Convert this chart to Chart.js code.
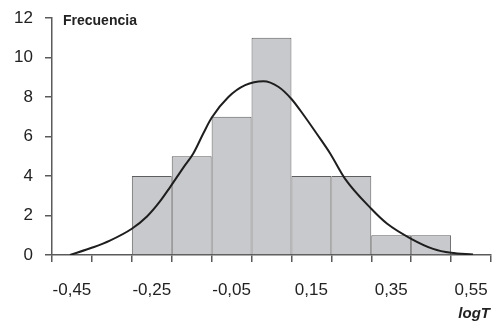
<!DOCTYPE html>
<html>
<head>
<meta charset="utf-8">
<script src="https://cdn.jsdelivr.net/npm/chart.js@4/dist/chart.umd.min.js"></script>
<style>
  html, body { margin: 0; padding: 0; background: #fff; }
  #wrap { width: 496px; height: 321px; }
</style>
</head>
<body>
<div id="wrap"><canvas id="chart"></canvas></div>
<script>
// histogram bins (centre of each 0.1 wide class) and frequencies
const binCentres = [-0.25, -0.15, -0.05, 0.05, 0.15, 0.25, 0.35, 0.45];
const frequencies = [4, 5, 7, 11, 4, 4, 1, 1];

// fitted curve
const curveX = [-0.455, -0.397, -0.355, -0.30, -0.262, -0.23, -0.204, -0.17, -0.146, -0.121, -0.10, -0.058, -0.016, 0.03, 0.067, 0.10, 0.13, 0.163, 0.197, 0.234, 0.30, 0.34, 0.40, 0.455, 0.50, 0.555];
const curveY = [0, 0.39, 0.73, 1.33, 1.95, 2.7, 3.44, 4.45, 5.14, 6.15, 6.95, 8.0, 8.6, 8.8, 8.52, 7.9, 7.1, 6.15, 5.14, 3.87, 2.34, 1.58, 0.82, 0.31, 0.11, 0.03];

// axis ticks
const xEdges = [-0.5, -0.4, -0.3, -0.2, -0.1, 0, 0.1, 0.2, 0.3, 0.4, 0.5, 0.6];
const xLabelValues = [-0.45, -0.25, -0.05, 0.15, 0.35, 0.55];
const xLabels = ['-0,45', '-0,25', '-0,05', '0,15', '0,35', '0,55'];
const yTicks = [0, 2, 4, 6, 8, 10, 12];

const axisColor = '#5a5a5a';
const font = 'Liberation Sans, Arial, sans-serif';

const barData = binCentres.map((x, i) => ({ x: x, y: frequencies[i] }));
const curveData = curveX.map((x, i) => ({ x: x, y: curveY[i] }));

const near = (a, b) => Math.abs(a - b) < 1e-6;

// "Frecuencia" inside the plot and "logT" under the x axis
const extraLabels = {
  id: 'extraLabels',
  afterDraw(chart) {
    const ctx = chart.ctx;
    const area = chart.chartArea;
    ctx.save();
    ctx.fillStyle = '#222';
    ctx.font = 'bold 14px ' + font;
    ctx.textBaseline = 'top';
    ctx.textAlign = 'left';
    ctx.fillText('Frecuencia', area.left + 11, area.top - 4);
    ctx.font = 'italic bold 15px ' + font;
    ctx.textBaseline = 'alphabetic';
    ctx.textAlign = 'right';
    ctx.fillText('logT', area.right - 1, chart.height - 3);
    ctx.restore();
  },
};

new Chart(document.getElementById('chart'), {
  data: {
    datasets: [
      {
        type: 'line',
        data: curveData,
        borderColor: '#1e1e1e',
        borderWidth: 2,
        pointRadius: 0,
        cubicInterpolationMode: 'monotone',
        fill: false,
        order: 0,
      },
      {
        type: 'bar',
        data: barData,
        backgroundColor: '#c8c9cc',
        borderColor: '#5e5e5e',
        borderWidth: 1,
        // tick spacing is half a class, so double it to fill the class
        barPercentage: 2,
        categoryPercentage: 1,
        order: 1,
      },
    ],
  },
  options: {
    responsive: true,
    maintainAspectRatio: false,
    animation: false,
    layout: { padding: { top: 18, right: 5, left: 0, bottom: 0 } },
    plugins: {
      legend: { display: false },
      tooltip: { enabled: false },
    },
    scales: {
      x: {
        type: 'linear',
        min: -0.5,
        max: 0.6,
        offset: false,
        afterBuildTicks(scale) {
          const vals = xEdges.concat(xLabelValues).sort((a, b) => a - b);
          scale.ticks = vals.map((v) => ({ value: v }));
        },
        afterFit(scale) {
          scale.height = 66;
          scale.paddingLeft = 0;
          scale.paddingRight = 0;
        },
        border: { color: axisColor, width: 1.5 },
        grid: {
          offset: false,
          drawOnChartArea: false,
          tickLength: 7,
          lineWidth: 1.5,
          color: (c) => {
            if (!c.tick) return axisColor;
            return xEdges.some((e) => near(e, c.tick.value)) ? axisColor : 'rgba(0,0,0,0)';
          },
        },
        ticks: {
          autoSkip: false,
          maxRotation: 0,
          padding: 18,
          color: '#222',
          font: { family: font, size: 17 },
          callback: (v) => {
            const i = xLabelValues.findIndex((l) => near(l, v));
            return i >= 0 ? xLabels[i] : '';
          },
        },
      },
      y: {
        min: 0,
        max: 12,
        afterBuildTicks(scale) {
          scale.ticks = yTicks.map((v) => ({ value: v }));
        },
        afterFit(scale) {
          scale.width = 52;
          scale.paddingTop = 0;
          scale.paddingBottom = 0;
        },
        border: { color: axisColor, width: 1.5 },
        grid: {
          drawOnChartArea: false,
          tickLength: 7,
          lineWidth: 1.5,
          color: axisColor,
        },
        ticks: {
          padding: 12,
          color: '#222',
          font: { family: font, size: 17 },
        },
      },
    },
  },
  plugins: [extraLabels],
});
</script>
</body>
</html>
